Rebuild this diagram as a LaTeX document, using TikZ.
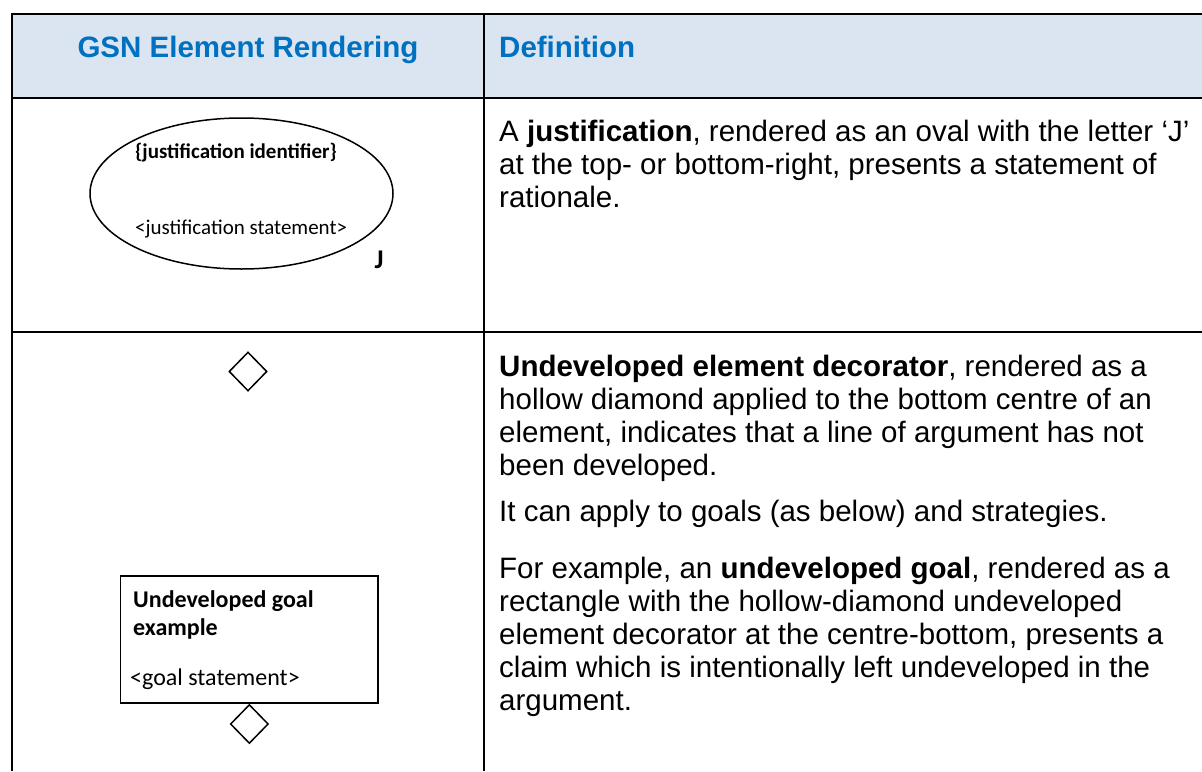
\documentclass[tikz,border=0pt]{standalone}
\usepackage{fontspec}
\setmainfont{Liberation Sans}
\newfontfamily\calibri{Carlito}
\usetikzlibrary{shapes.geometric}
\definecolor{headfill}{HTML}{DBE5F1}
\definecolor{headblue}{HTML}{0070C0}
\begin{document}
\begin{tikzpicture}[x=1pt,y=-1pt,
  rule/.style={line width=2.2pt},
  head/.style={inner sep=0pt,anchor=base,text=headblue,
    font=\bfseries\fontsize{29.5}{33}\selectfont},
  body/.style={inner sep=0pt,anchor=base west,
    font=\fontsize{29.5}{33}\selectfont},
  gsnline/.style={draw,line width=1.5pt},
  smalltext/.style={inner sep=0pt,anchor=base west,
    font=\calibri\fontsize{21}{25}\selectfont},
  goaltext/.style={inner sep=0pt,anchor=base west,
    font=\calibri\fontsize{24}{28}\selectfont},
  undev/.style={gsnline,shape=diamond,minimum width=38pt,
    minimum height=39pt,inner sep=0pt}]
\useasboundingbox (0,0) rectangle (1202,771);

% header band and table rules
\fill[headfill] (12,14) rectangle (1202,98);
\draw[rule] (1202,14) -- (12,14) -- (12,771);
\draw[rule] (12,98) -- (1202,98);
\draw[rule] (12,332) -- (1202,332);
\draw[rule] (484,14) -- (484,771);

% header
\node[head] (hrender) at (248,57) {GSN Element Rendering};
\node[head,anchor=base west] (hdef) at (499,57) {Definition};

% justification element
\node[gsnline,shape=ellipse,minimum width=303pt,minimum height=151pt,
  inner sep=0pt] (just) at (241.5,193.5) {};
\node[smalltext,font=\calibri\bfseries\fontsize{21}{25}\selectfont]
  (justid) at (135,158) {\{justification identifier\}};
\node[smalltext] (juststmt) at (135,234) {<justification statement>};
\node[inner sep=0pt,anchor=base,font=\calibri\bfseries\fontsize{27}{30}\selectfont]
  (justJ) at (379,268) {J};

% justification definition
\node[body] (j1) at (499,141) {A \textbf{justification}, rendered as an oval with the letter ‘J’};
\node[body] (j2) at (499,174) {at the top- or bottom-right, presents a statement of};
\node[body] (j3) at (499,207) {rationale.};

% undeveloped decorator and goal example
\node[undev] (dec) at (248,371.5) {};
\node[gsnline,minimum width=257.3pt,minimum height=127pt,inner sep=0pt]
  (goal) at (249.35,639.5) {};
\node[goaltext,font=\calibri\bfseries\fontsize{24}{28}\selectfont]
  (goalid1) at (133,607) {Undeveloped goal};
\node[goaltext,font=\calibri\bfseries\fontsize{24}{28}\selectfont]
  (goalid2) at (133,635) {example};
\node[goaltext] (goalstmt) at (130,685) {<goal statement>};
\node[undev,anchor=north] (goaldec) at (goal.south) {};

% undeveloped definition
\node[body] (u1) at (499,376) {\textbf{Undeveloped element decorator}, rendered as a};
\node[body] (u2) at (499,409) {hollow diamond applied to the bottom centre of an};
\node[body] (u3) at (499,442) {element, indicates that a line of argument has not};
\node[body] (u4) at (499,475) {been developed.};
\node[body] (u5) at (499,521) {It can apply to goals (as below) and strategies.};
\node[body] (u6) at (499,578) {For example, an \textbf{undeveloped goal}, rendered as a};
\node[body] (u7) at (499,611) {rectangle with the hollow-diamond undeveloped};
\node[body] (u8) at (499,644) {element decorator at the centre-bottom, presents a};
\node[body] (u9) at (499,677) {claim which is intentionally left undeveloped in the};
\node[body] (u10) at (499,710) {argument.};
\end{tikzpicture}
\end{document}
